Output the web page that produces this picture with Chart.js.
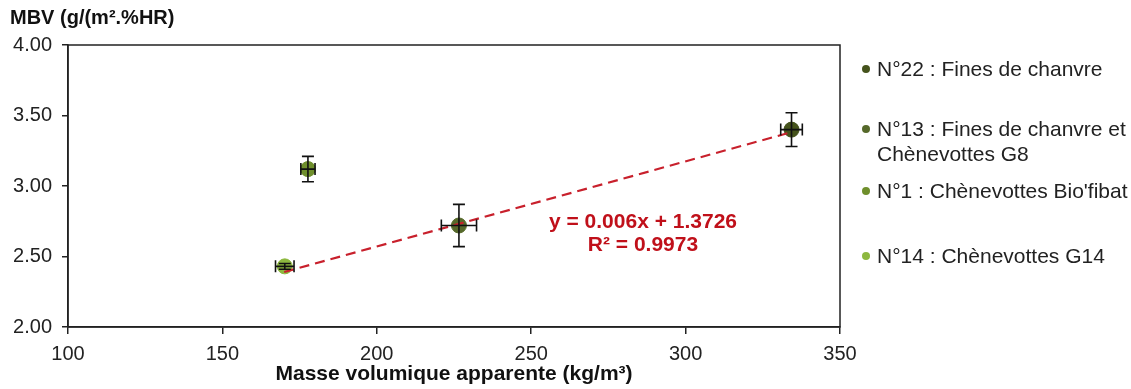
<!DOCTYPE html>
<html>
<head>
<meta charset="utf-8">
<script src="https://cdn.jsdelivr.net/npm/chart.js"></script>
<style>
    html, body { margin: 0; padding: 0; background: #fff; }
    #wrap { position: relative; width: 1131px; height: 389px; }
    #legend { position: absolute; left: 862px; top: 0; font-family: "Liberation Sans", Arial, sans-serif; font-size: 21px; color: #222; }
    .item { position: absolute; left: 0; white-space: nowrap; line-height: 25px; }
    .dot { position: absolute; left: 0; top: 9px; width: 8px; height: 8px; border-radius: 50%; }
    .txt { position: absolute; left: 15px; top: 0; }
</style>
</head>
<body>
<div id="wrap">
    <canvas id="chart" width="1131" height="389"></canvas>
    <div id="legend"></div>
</div>
<script>
// donnees
const echantillons = ['N°22 : Fines de chanvre', 'N°13 : Fines de chanvre et\nChènevottes G8', 'N°1 : Chènevottes Bio\'fibat', 'N°14 : Chènevottes G14'];
const masseVol = [334.3, 226.6, 177.7, 170.2];
const mbv = [3.40, 2.72, 3.12, 2.43];
const errMasse = [3.5, 5.7, 2.3, 3.0];
const errMbv = [0.12, 0.15, 0.09, 0.02];
const couleurs = ['#45531c', '#56692a', '#6f8f2c', '#8db83f'];
const legendeY = [56, 116, 178, 243];

// courbe de tendance (extremites)
const tendanceX = [170, 334];
const tendanceY = [2.39, 3.38];

const xTicks = [100, 150, 200, 250, 300, 350];
const yTicks = [2.0, 2.5, 3.0, 3.5, 4.0];

const font = "'Liberation Sans', Arial, sans-serif";

// legende html
const leg = document.getElementById('legend');
echantillons.forEach((nom, i) => {
    let it = document.createElement('div');
    it.className = 'item';
    it.style.top = legendeY[i] + 'px';
    it.innerHTML = '<span class="dot" style="background:' + couleurs[i] + '"></span><span class="txt">' + nom.replace('\n', '<br>') + '</span>';
    leg.append(it);
});

const errorBars = {
    id: 'errorBars',
    afterDatasetsDraw(chart) {
        const ctx = chart.ctx;
        const xs = chart.scales.x, ys = chart.scales.y;
        ctx.save();
        ctx.strokeStyle = '#111';
        ctx.lineWidth = 1.6;
        for (let i = 0; i < masseVol.length; i++) {
            let px = xs.getPixelForValue(masseVol[i]);
            let py = ys.getPixelForValue(mbv[i]);
            let y1 = ys.getPixelForValue(mbv[i] + errMbv[i]);
            let y2 = ys.getPixelForValue(mbv[i] - errMbv[i]);
            let x1 = xs.getPixelForValue(masseVol[i] - errMasse[i]);
            let x2 = xs.getPixelForValue(masseVol[i] + errMasse[i]);
            ctx.beginPath();
            ctx.moveTo(px, y1); ctx.lineTo(px, y2);
            ctx.moveTo(px - 6, y1); ctx.lineTo(px + 6, y1);
            ctx.moveTo(px - 6, y2); ctx.lineTo(px + 6, y2);
            ctx.moveTo(x1, py); ctx.lineTo(x2, py);
            ctx.moveTo(x1, py - 6); ctx.lineTo(x1, py + 6);
            ctx.moveTo(x2, py - 6); ctx.lineTo(x2, py + 6);
            ctx.stroke();
        }
        // cadre
        const a = chart.chartArea;
        ctx.strokeStyle = '#222';
        ctx.lineWidth = 1.5;
        ctx.strokeRect(a.left, a.top, a.right - a.left, a.bottom - a.top);
        // titres des axes
        ctx.fillStyle = '#111';
        ctx.font = 'bold 20px ' + font;
        ctx.textAlign = 'left';
        ctx.textBaseline = 'middle';
        ctx.fillText('MBV (g/(m².%HR)', 10, 18);
        ctx.textAlign = 'center';
        ctx.textBaseline = 'alphabetic';
        ctx.font = 'bold 21px ' + font;
        ctx.fillText('Masse volumique apparente (kg/m³)', 454, 380);
        // equation
        ctx.textBaseline = 'middle';
        ctx.fillStyle = '#c0101a';
        ctx.font = 'bold 21px ' + font;
        ctx.fillText('y = 0.006x + 1.3726', 643, 222);
        ctx.fillText('R² = 0.9973', 643, 245);
        ctx.restore();
    }
};

const datasets = echantillons.map((nom, i) => ({
    label: nom,
    data: [{ x: masseVol[i], y: mbv[i] }],
    backgroundColor: couleurs[i],
    borderColor: couleurs[i],
    pointRadius: 7.5,
    pointHoverRadius: 7.5,
    order: 2
}));
datasets.push({
    label: 'tendance',
    type: 'line',
    data: tendanceX.map((x, i) => ({ x: x, y: tendanceY[i] })),
    borderColor: '#c8202c',
    borderWidth: 2.2,
    borderDash: [10, 6],
    pointRadius: 0,
    fill: false,
    order: 1
});

new Chart(document.getElementById('chart'), {
    type: 'scatter',
    data: { datasets: datasets },
    plugins: [errorBars],
    options: {
        responsive: false,
        animation: false,
        layout: { padding: { top: 45, right: 291, left: 0, bottom: 0 } },
        plugins: { legend: { display: false }, tooltip: { enabled: false } },
        scales: {
            x: {
                type: 'linear',
                min: 100, max: 350,
                afterBuildTicks: (s) => { s.ticks = xTicks.map(v => ({ value: v })); },
                afterFit: (s) => { s.height = 62; },
                grid: { drawOnChartArea: false, tickLength: 7, color: '#222', lineWidth: 1.5 },
                border: { color: '#222', width: 1.5 },
                ticks: { color: '#222', font: { family: font, size: 20, lineHeight: 1 }, padding: 10, maxRotation: 0 },
                title: { display: false }
            },
            y: {
                min: 2, max: 4,
                afterBuildTicks: (s) => { s.ticks = yTicks.map(v => ({ value: v })); },
                afterFit: (s) => { s.width = 68; },
                grid: { drawOnChartArea: false, tickLength: 6, color: '#222', lineWidth: 1.5 },
                border: { color: '#222', width: 1.5 },
                ticks: { color: '#222', font: { family: font, size: 20 }, padding: 10, callback: (v) => v.toFixed(2) }
            }
        }
    }
});
</script>
</body>
</html>
